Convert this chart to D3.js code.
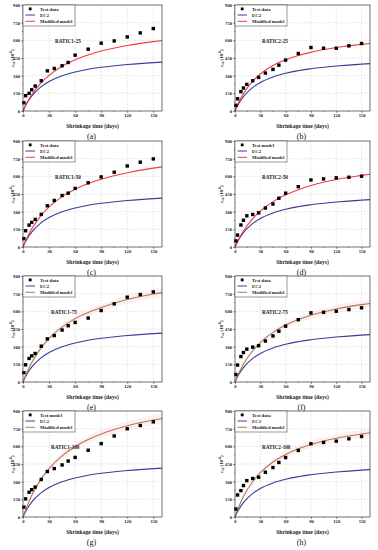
<!DOCTYPE html>
<html>
<head>
<meta charset="utf-8">
<script src="https://cdn.jsdelivr.net/npm/d3@7"></script>
<style>
  body { margin: 0; background: #fff; }
  svg { display: block; }
  text { font-family: "Liberation Serif", "Times New Roman", serif; }
</style>
</head>
<body>
<svg id="chart" width="378" height="550"></svg>
<script>
// measured days of the test points
var testDays = [1, 3, 7, 10, 14, 21, 28, 36, 45, 52, 60, 75, 90, 105, 120, 135, 150];
var curveDays = [0, 2, 5, 10, 20, 30, 45, 60, 75, 90, 120, 150, 160];

var xTicks = [0, 30, 60, 90, 120, 150];
var yTicks = [0, 150, 300, 450, 600, 750, 900];

var panelNames = ["RATIC1-25", "RATIC2-25", "RATIC1-50", "RATIC2-50",
                  "RATIC1-75", "RATIC2-75", "RATIC1-100", "RATIC2-100"];
var panelLetters = ["(a)", "(b)", "(c)", "(d)", "(e)", "(f)", "(g)", "(h)"];
var testLabels = ["Test data", "Test data", "Test data", "Test model",
                  "Test data", "Test data", "Test model", "Test data"];

// test data (10^-6)
var test_a = [70, 130, 150, 180, 212, 257, 341, 361, 384, 412, 474, 525, 576, 595, 629, 663, 700];
var test_b = [48, 104, 164, 195, 226, 257, 285, 322, 353, 389, 432, 488, 539, 533, 533, 553, 573];
var test_c = [71, 138, 186, 209, 234, 277, 350, 395, 437, 457, 497, 545, 595, 635, 688, 720, 748];
var test_d = [52, 101, 187, 227, 265, 276, 290, 331, 365, 414, 457, 512, 569, 578, 587, 592, 601];
var test_e = [79, 146, 200, 222, 242, 304, 366, 394, 441, 478, 506, 543, 607, 664, 720, 742, 765];
var test_f = [63, 144, 216, 250, 279, 296, 308, 348, 391, 431, 474, 529, 587, 592, 601, 615, 630];
var test_g = [84, 154, 210, 232, 254, 319, 386, 411, 442, 475, 506, 567, 623, 688, 749, 777, 808];
var test_h = [68, 187, 224, 267, 309, 327, 338, 380, 420, 463, 505, 565, 622, 633, 644, 664, 684];

// EC2 prediction
var ec2_left  = [0, 32, 72, 126, 201, 250, 299, 331, 354, 371, 395, 411, 415];
var ec2_right = [0, 31, 70, 122, 194, 242, 289, 320, 343, 359, 382, 398, 402];

// modified model
var model_a = [0, 32, 75, 137, 232, 303, 380, 435, 476, 509, 556, 589, 598];
var model_b = [0, 36, 83, 149, 246, 314, 386, 435, 472, 499, 539, 566, 573];
var model_c = [0, 35, 83, 152, 260, 340, 428, 491, 539, 576, 631, 670, 680];
var model_d = [0, 31, 74, 136, 232, 305, 385, 443, 487, 522, 573, 608, 618];
var model_e = [0, 37, 89, 163, 281, 370, 466, 538, 590, 632, 700, 747, 759];
var model_f = [0, 35, 82, 151, 257, 335, 421, 483, 530, 567, 620, 657, 667];
var model_g = [0, 42, 99, 182, 313, 411, 519, 598, 658, 705, 774, 823, 836];
var model_h = [0, 41, 96, 174, 291, 376, 467, 531, 579, 616, 669, 705, 715];

var tests = [test_a, test_b, test_c, test_d, test_e, test_f, test_g, test_h];
var models = [model_a, model_b, model_c, model_d, model_e, model_f, model_g, model_h];

var cols = [{ x: 23, w: 139, lab: 32, yt: 9 }, { x: 235, w: 135, lab: 27, yt: 12 }];
var rowTops = [5, 141, 276, 411];
var panelH = 106;

var blue = "#3b3b9c";
var red = "#f23a48";
var brown = "#b07b4e";

var svg = d3.select("#chart");

panelNames.forEach(function(name, i) {
  var col = cols[i % 2];
  var x0 = col.x, y0 = rowTops[Math.floor(i / 2)];
  var w = col.w, h = panelH;
  var late = i >= 4;
  var modelColor = late ? brown : red;
  var ec2 = i % 2 === 0 ? ec2_left : ec2_right;

  var x = d3.scaleLinear().domain([0, 160]).range([x0, x0 + w]);
  var y = d3.scaleLinear().domain([0, 900]).range([y0 + h, y0]);

  var g = svg.append("g");

  // grid
  g.selectAll(".gx").data(xTicks.slice(1)).enter().append("line")
    .attr("x1", d => x(d)).attr("x2", d => x(d))
    .attr("y1", y0).attr("y2", y0 + h)
    .attr("stroke", "#c4c4c4").attr("stroke-width", 0.5)
    .attr("stroke-dasharray", "1.5,1.5");
  g.selectAll(".gy").data(yTicks.slice(1, -1)).enter().append("line")
    .attr("x1", x0).attr("x2", x0 + w)
    .attr("y1", d => y(d)).attr("y2", d => y(d))
    .attr("stroke", "#c4c4c4").attr("stroke-width", 0.5)
    .attr("stroke-dasharray", "1.5,1.5");

  // faint band around the modified model (lower panels)
  if (late) {
    var band = d3.area()
      .x((d, k) => x(curveDays[k]))
      .y0(d => y(d * 0.95))
      .y1(d => y(d * 1.05))
      .curve(d3.curveMonotoneX);
    g.append("path").datum(models[i]).attr("d", band)
      .attr("fill", "#fbe1e7").attr("opacity", 0.55);
  }

  var line = d3.line()
    .x((d, k) => x(curveDays[k]))
    .y(d => y(d))
    .curve(d3.curveMonotoneX);

  g.append("path").datum(ec2).attr("d", line)
    .attr("fill", "none").attr("stroke", blue).attr("stroke-width", 1.1);
  g.append("path").datum(models[i]).attr("d", line)
    .attr("fill", "none").attr("stroke", modelColor).attr("stroke-width", 1.1);

  // test points
  g.selectAll(".pt").data(tests[i]).enter().append("rect")
    .attr("x", (d, k) => x(testDays[k]) - 1.7)
    .attr("y", d => y(d) - 1.7)
    .attr("width", 3.4).attr("height", 3.4)
    .attr("fill", "#000");

  // axes
  var xAxis = d3.axisBottom(x).tickValues(xTicks).tickSize(1.8).tickPadding(1.2);
  var gx = g.append("g").attr("transform", "translate(0," + (y0 + h) + ")").call(xAxis);
  var yAxis = d3.axisLeft(y).tickValues(yTicks).tickSize(1.8).tickPadding(1.2);
  var gy = g.append("g").attr("transform", "translate(" + x0 + ",0)").call(yAxis);
  [gx, gy].forEach(function(a) {
    a.select(".domain").remove();
    a.selectAll("line").attr("stroke-width", 0.5);
    a.selectAll("text").style("font-family", '"Liberation Serif", serif')
      .style("font-weight", "bold").style("font-size", "4.6px").attr("fill", "#222");
  });
  // minor ticks
  g.selectAll(".mx").data([15, 45, 75, 105, 135]).enter().append("line")
    .attr("x1", d => x(d)).attr("x2", d => x(d))
    .attr("y1", y0 + h).attr("y2", y0 + h + 1)
    .attr("stroke", "#000").attr("stroke-width", 0.4);
  g.selectAll(".my").data([75, 225, 375, 525, 675, 825]).enter().append("line")
    .attr("x1", x0 - 1).attr("x2", x0)
    .attr("y1", d => y(d)).attr("y2", d => y(d))
    .attr("stroke", "#000").attr("stroke-width", 0.4);

  // frame
  g.append("rect").attr("x", x0).attr("y", y0).attr("width", w).attr("height", h)
    .attr("fill", "none").attr("stroke", "#333").attr("stroke-width", 0.7);

  // legend
  var lg = g.append("g").attr("transform", "translate(" + x0 + "," + y0 + ")");
  lg.append("rect").attr("x", 0).attr("y", 0).attr("width", 52).attr("height", 21)
    .attr("fill", "#fff").attr("stroke", "#333").attr("stroke-width", 0.5);
  lg.append("rect").attr("x", 5.8).attr("y", 2.5).attr("width", 2.8).attr("height", 2.8).attr("fill", "#000");
  lg.append("line").attr("x1", 2.5).attr("x2", 12).attr("y1", 10).attr("y2", 10)
    .attr("stroke", blue).attr("stroke-width", 1);
  lg.append("line").attr("x1", 2.5).attr("x2", 12).attr("y1", 16.3).attr("y2", 16.3)
    .attr("stroke", modelColor).attr("stroke-width", 1);
  [testLabels[i], "EC2", "Modified model"].forEach(function(t, k) {
    lg.append("text").attr("x", 17).attr("y", [4, 10, 16.3][k] + 1.7)
      .attr("font-size", 4.8).attr("font-weight", "bold").attr("fill", "#222").text(t);
  });

  // specimen name
  g.append("text").attr("x", x0 + col.lab - (late && i % 2 === 0 ? 4 : 0)).attr("y", y0 + 38)
    .attr("font-size", 5.2).attr("font-weight", "bold").attr("fill", "#222").text(name);

  // axis titles
  g.append("text").attr("x", x0 + w / 2).attr("y", y0 + h + 16.5)
    .attr("text-anchor", "middle").attr("font-size", 5.6).attr("font-weight", "bold")
    .attr("fill", "#222").text("Shrinkage time (days)");

  var yt = g.append("text")
    .attr("transform", "translate(" + (x0 - col.yt) + "," + (y0 + h / 2) + ") rotate(-90)")
    .attr("text-anchor", "middle").attr("font-size", 4.9).attr("font-weight", "bold")
    .attr("fill", "#222");
  yt.append("tspan").attr("font-style", "italic").text("ε");
  yt.append("tspan").attr("font-size", 3.5).attr("dy", 1).text("cs");
  yt.append("tspan").attr("dy", -1).text(" (10");
  yt.append("tspan").attr("font-size", 3.5).attr("dy", -1.6).text("-6");
  yt.append("tspan").attr("dy", 1.6).text(")");

  // panel letter
  g.append("text").attr("x", x0 + w / 2 - 1).attr("y", y0 + h + 28)
    .attr("text-anchor", "middle").attr("font-size", 8).attr("fill", "#111")
    .text(panelLetters[i]);
});
</script>
</body>
</html>
